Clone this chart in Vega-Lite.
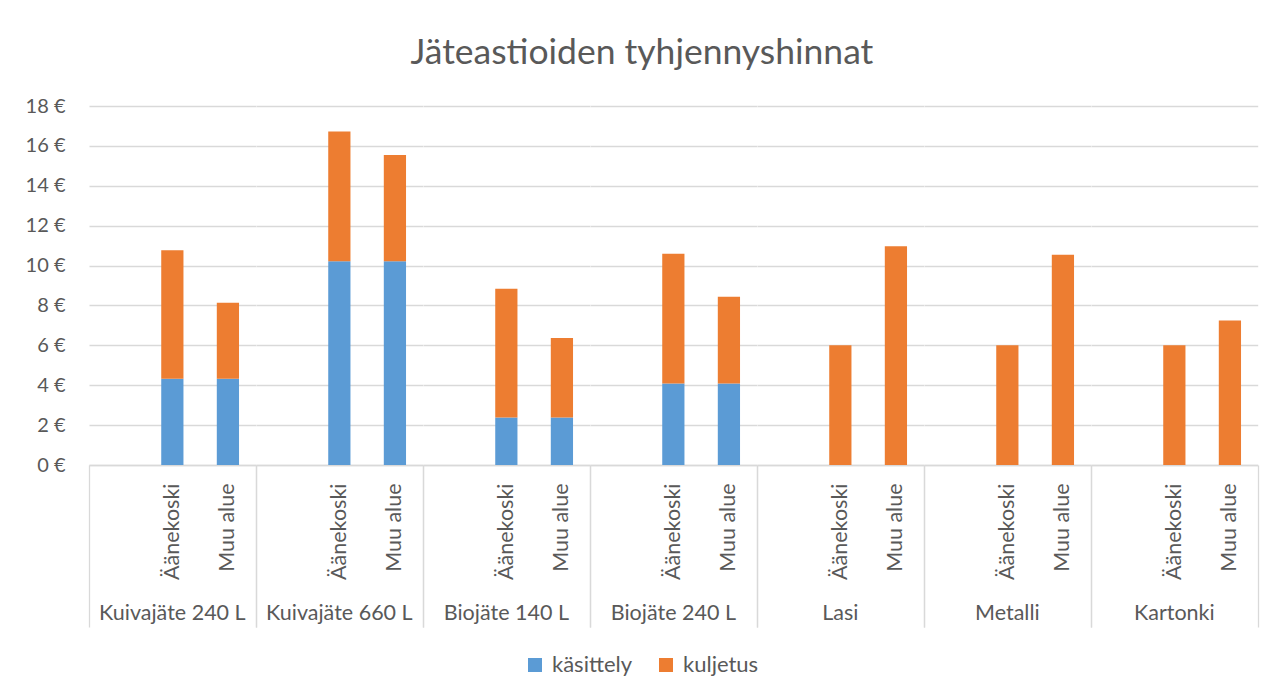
{
  "$schema": "https://vega.github.io/schema/vega-lite/v6.json",
  "padding": {"left": 25, "top": 35, "right": 28, "bottom": 20},
  "background": "white",
  "title": {"text": "Jäteastioiden tyhjennyshinnat", "fontSize": 35.5, "font": "Lato", "fontWeight": "normal", "color": "#595959", "anchor": "middle", "offset": 25},
  "data": {"values": [
    {"group": "Kuivajäte 240 L", "area": "Äänekoski", "type": "käsittely", "value": 4.32},
    {"group": "Kuivajäte 240 L", "area": "Äänekoski", "type": "kuljetus", "value": 6.45},
    {"group": "Kuivajäte 240 L", "area": "Muu alue", "type": "käsittely", "value": 4.32},
    {"group": "Kuivajäte 240 L", "area": "Muu alue", "type": "kuljetus", "value": 3.82},
    {"group": "Kuivajäte 660 L", "area": "Äänekoski", "type": "käsittely", "value": 10.22},
    {"group": "Kuivajäte 660 L", "area": "Äänekoski", "type": "kuljetus", "value": 6.5},
    {"group": "Kuivajäte 660 L", "area": "Muu alue", "type": "käsittely", "value": 10.22},
    {"group": "Kuivajäte 660 L", "area": "Muu alue", "type": "kuljetus", "value": 5.32},
    {"group": "Biojäte 140 L", "area": "Äänekoski", "type": "käsittely", "value": 2.38},
    {"group": "Biojäte 140 L", "area": "Äänekoski", "type": "kuljetus", "value": 6.46},
    {"group": "Biojäte 140 L", "area": "Muu alue", "type": "käsittely", "value": 2.38},
    {"group": "Biojäte 140 L", "area": "Muu alue", "type": "kuljetus", "value": 3.99},
    {"group": "Biojäte 240 L", "area": "Äänekoski", "type": "käsittely", "value": 4.09},
    {"group": "Biojäte 240 L", "area": "Äänekoski", "type": "kuljetus", "value": 6.5},
    {"group": "Biojäte 240 L", "area": "Muu alue", "type": "käsittely", "value": 4.09},
    {"group": "Biojäte 240 L", "area": "Muu alue", "type": "kuljetus", "value": 4.34},
    {"group": "Lasi", "area": "Äänekoski", "type": "kuljetus", "value": 6.01},
    {"group": "Lasi", "area": "Muu alue", "type": "kuljetus", "value": 10.97},
    {"group": "Metalli", "area": "Äänekoski", "type": "kuljetus", "value": 6.01},
    {"group": "Metalli", "area": "Muu alue", "type": "kuljetus", "value": 10.54},
    {"group": "Kartonki", "area": "Äänekoski", "type": "kuljetus", "value": 6.01},
    {"group": "Kartonki", "area": "Muu alue", "type": "kuljetus", "value": 7.25}
  ]},
  "facet": {
    "column": {
      "field": "group", "type": "nominal",
      "sort": ["Kuivajäte 240 L", "Kuivajäte 660 L", "Biojäte 140 L", "Biojäte 240 L", "Lasi", "Metalli", "Kartonki"],
      "header": {"title": null, "labelOrient": "bottom", "labelFontSize": 21.5, "labelFont": "Lato", "labelColor": "#595959", "labelPadding": -25, "labelBaseline": "top"}
    }
  },
  "spacing": 0,
  "spec": {
    "width": 166.7,
    "height": 359,
    "mark": {"type": "bar", "width": {"band": 0.4}},
    "encoding": {
      "x": {
        "field": "area", "type": "nominal",
        "scale": {"domain": [" ", "Äänekoski", "Muu alue"], "paddingInner": 0, "paddingOuter": 0},
        "axis": {
          "title": null, "labelAngle": -90, "labelFontSize": 21.5, "labelFont": "Lato", "labelColor": "#595959",
          "tickBand": "extent", "tickSize": 162, "labelPadding": -144,
          "tickColor": {"condition": {"test": "datum.value === 'Muu alue' || datum.extra", "value": "#d9d9d9"}, "value": "transparent"},
          "tickWidth": 1.3,
          "domainColor": "#d9d9d9", "domainWidth": 1.3
        }
      },
      "y": {
        "field": "value", "type": "quantitative", "stack": "zero",
        "scale": {"domain": [0, 18]},
        "axis": {
          "title": null, "values": [0, 2, 4, 6, 8, 10, 12, 14, 16, 18],
          "labelExpr": "datum.value + ' €'", "labelFontSize": 20, "labelFont": "Lato", "labelColor": "#595959",
          "labelPadding": 24, "ticks": false, "domain": false,
          "gridColor": "#d9d9d9", "gridWidth": 1.3
        }
      },
      "color": {
        "field": "type", "type": "nominal",
        "scale": {"domain": ["käsittely", "kuljetus"], "range": ["#5b9bd5", "#ed7d31"]},
        "legend": {"title": null, "orient": "bottom", "direction": "horizontal", "symbolType": "square", "symbolSize": 196, "symbolStrokeWidth": 0, "labelFontSize": 22, "labelFont": "Lato", "labelColor": "#595959", "labelOffset": 6, "columnPadding": 22, "offset": 26}
      },
      "order": {"field": "type", "sort": "descending"}
    }
  },
  "config": {
    "view": {"stroke": null},
    "legend": {"layout": {"bottom": {"anchor": "middle"}}}
  }
}
